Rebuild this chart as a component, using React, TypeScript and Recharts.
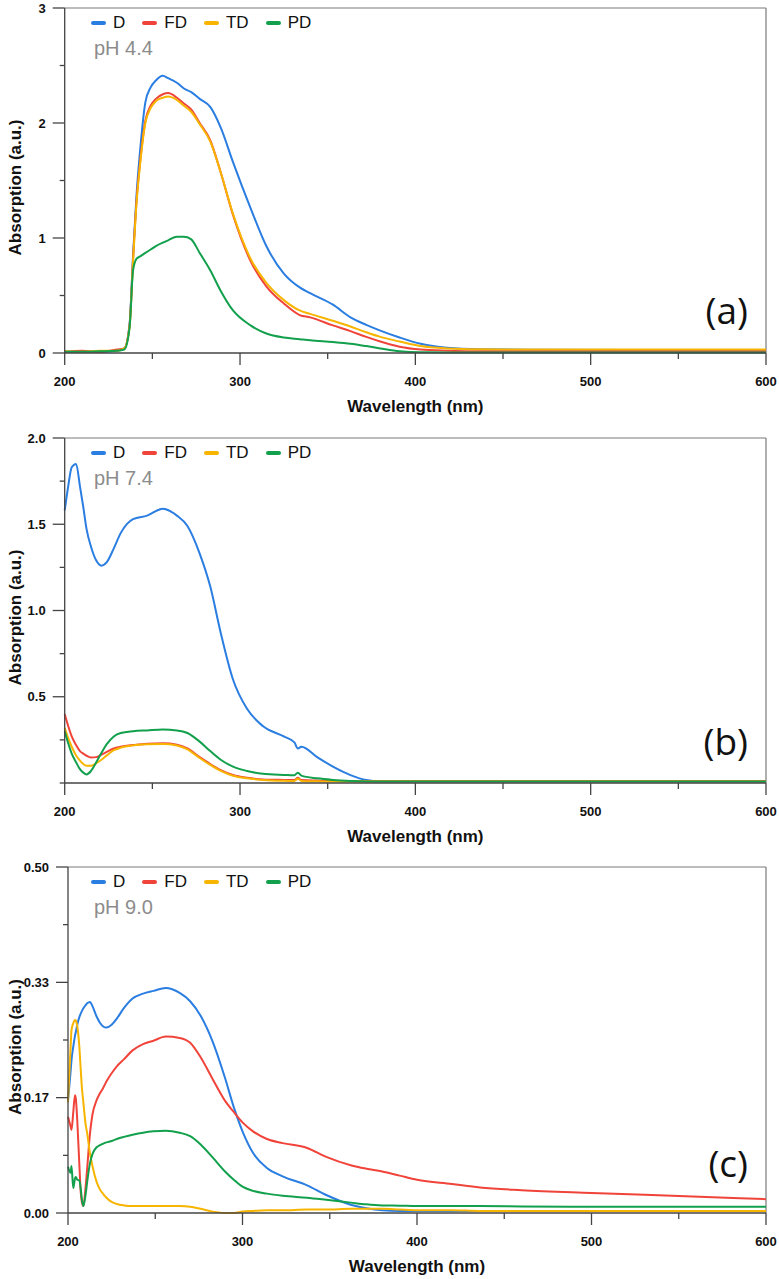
import { LineChart, Line, XAxis, YAxis, ReferenceLine, Legend, Label } from "recharts";

const AXIS = "#444";
const FRAME = "#7a7a7a";
const FONT = '"Liberation Sans", Arial, sans-serif';

const seriesKeys = ["D", "FD", "TD", "PD"];
const seriesColors = ["#2a7de1", "#f0443a", "#f7b500", "#12a04c"];

const xTicks = [200, 250, 300, 350, 400, 450, 500, 550, 600];
const xLabels = [200, 300, 400, 500, 600];

// panel (a) pH 4.4
const wlA = [200, 210, 220, 230, 234, 237, 239, 241, 243, 246, 249, 252, 256, 259, 264, 268, 272, 277, 283, 289, 296, 306, 315, 325, 334, 340, 353, 363, 372, 380, 391, 403, 418, 437, 470, 520, 600];
const dA = [0.01, 0.015, 0.01, 0.02, 0.04, 0.25, 0.85, 1.38, 1.76, 2.18, 2.31, 2.37, 2.41, 2.39, 2.35, 2.3, 2.27, 2.21, 2.14, 1.96, 1.66, 1.26, 0.93, 0.69, 0.57, 0.52, 0.42, 0.31, 0.245, 0.195, 0.135, 0.08, 0.045, 0.032, 0.028, 0.026, 0.025];
const fdA = [0.01, 0.02, 0.01, 0.03, 0.04, 0.24, 0.82, 1.33, 1.66, 2.02, 2.15, 2.21, 2.25, 2.26, 2.22, 2.17, 2.12, 2.0, 1.85, 1.57, 1.2, 0.8, 0.58, 0.43, 0.33, 0.31, 0.24, 0.19, 0.14, 0.1, 0.055, 0.03, 0.02, 0.015, 0.015, 0.015, 0.015];
const tdA = [0.015, 0.01, 0.02, 0.02, 0.04, 0.23, 0.8, 1.31, 1.64, 2.0, 2.13, 2.19, 2.22, 2.23, 2.2, 2.15, 2.1, 1.99, 1.84, 1.57, 1.21, 0.82, 0.61, 0.46, 0.37, 0.34, 0.28, 0.23, 0.18, 0.14, 0.1, 0.06, 0.04, 0.032, 0.03, 0.03, 0.03];
const pdA = [0.01, 0.01, 0.015, 0.02, 0.03, 0.22, 0.72, 0.82, 0.84, 0.87, 0.9, 0.93, 0.96, 0.98, 1.01, 1.01, 0.99, 0.87, 0.72, 0.54, 0.37, 0.24, 0.17, 0.135, 0.12, 0.11, 0.095, 0.08, 0.06, 0.04, 0.015, 0.006, 0.005, 0.005, 0.005, 0.005, 0.005];
const yTicksA = [0, 0.5, 1, 1.5, 2, 2.5, 3];
const yLabelsA = ["0", "", "1", "", "2", "", "3"];

// panel (b) pH 7.4
const wlB = [200, 202, 204, 206.5, 208.7, 210.6, 212.5, 215, 218, 221, 224, 228, 232, 239, 247, 256, 264, 270, 277, 283, 289, 296, 304, 313, 325, 331, 333, 335, 344, 353, 363, 372, 382, 400, 450, 500, 600];
const dB = [1.58, 1.72, 1.83, 1.85, 1.72, 1.6, 1.47, 1.37, 1.29, 1.26, 1.28, 1.36, 1.45, 1.53, 1.55, 1.59, 1.55, 1.49, 1.33, 1.14, 0.87, 0.6, 0.43, 0.33, 0.27, 0.235, 0.2, 0.21, 0.15, 0.095, 0.046, 0.017, 0.008, 0.01, 0.01, 0.01, 0.01];
const fdB = [0.4, 0.33, 0.27, 0.22, 0.185, 0.17, 0.158, 0.148, 0.15, 0.165, 0.18, 0.2, 0.21, 0.22, 0.228, 0.23, 0.222, 0.2, 0.15, 0.11, 0.075, 0.046, 0.03, 0.021, 0.018, 0.017, 0.03, 0.017, 0.014, 0.012, 0.012, 0.012, 0.012, 0.012, 0.012, 0.012, 0.012];
const tdB = [0.32, 0.26, 0.21, 0.16, 0.13, 0.11, 0.1, 0.1, 0.115, 0.135, 0.16, 0.19, 0.205, 0.218, 0.224, 0.226, 0.218, 0.195, 0.145, 0.105, 0.07, 0.042, 0.027, 0.018, 0.013, 0.012, 0.025, 0.012, 0.01, 0.008, 0.008, 0.008, 0.008, 0.008, 0.008, 0.008, 0.008];
const pdB = [0.3, 0.23, 0.17, 0.12, 0.08, 0.06, 0.05, 0.07, 0.12, 0.175, 0.225, 0.27, 0.29, 0.3, 0.305, 0.31, 0.305, 0.29, 0.24, 0.185, 0.135, 0.095, 0.07, 0.053, 0.047, 0.045, 0.06, 0.043, 0.027, 0.018, 0.012, 0.009, 0.008, 0.008, 0.008, 0.008, 0.008];
const yTicksB = [0, 0.25, 0.5, 0.75, 1, 1.25, 1.5, 1.75, 2];
const yLabelsB = ["", "", "0.5", "", "1.0", "", "1.5", "", "2.0"];

// panel (c) pH 9.0
const wlC = [200, 201.5, 202, 203, 204, 204.5, 205.3, 206.5, 207.3, 208, 208.8, 210, 211, 212.6, 214, 216.4, 218.3, 220, 222, 225, 228, 232, 237, 243, 249, 256, 264, 270, 276, 283, 290, 295, 300, 306, 314, 323, 337, 348, 362, 371, 380, 390, 400, 420, 436, 460, 500, 550, 600];
const dC = [0.163, 0.205, 0.221, 0.24, 0.256, 0.262, 0.272, 0.283, 0.288, 0.292, 0.296, 0.3, 0.303, 0.305, 0.299, 0.284, 0.275, 0.27, 0.268, 0.272, 0.281, 0.296, 0.31, 0.317, 0.321, 0.325, 0.318, 0.306, 0.285, 0.247, 0.195, 0.153, 0.118, 0.087, 0.065, 0.053, 0.04, 0.026, 0.012, 0.007, 0.004, 0.003, 0.003, 0.003, 0.003, 0.003, 0.003, 0.003, 0.003];
const fdC = [0.139, 0.125, 0.12, 0.145, 0.17, 0.165, 0.134, 0.07, 0.03, 0.015, 0.01, 0.035, 0.065, 0.115, 0.142, 0.163, 0.173, 0.18, 0.19, 0.202, 0.212, 0.222, 0.235, 0.244, 0.249, 0.255, 0.253, 0.246, 0.225, 0.193, 0.162, 0.146, 0.131, 0.118, 0.107, 0.101, 0.094, 0.081, 0.069, 0.064, 0.06, 0.054, 0.048, 0.042, 0.037, 0.033, 0.029, 0.0246, 0.02];
const tdC = [0.16, 0.24, 0.264, 0.274, 0.279, 0.278, 0.27, 0.24, 0.207, 0.18, 0.16, 0.13, 0.115, 0.086, 0.068, 0.045, 0.034, 0.028, 0.022, 0.016, 0.013, 0.011, 0.01, 0.01, 0.01, 0.01, 0.01, 0.009, 0.006, 0.002, 0.0, 0.0, 0.002, 0.003, 0.004, 0.004, 0.005, 0.005, 0.006, 0.006, 0.006, 0.005, 0.004, 0.004, 0.003, 0.003, 0.003, 0.003, 0.003];
const pdC = [0.067, 0.058, 0.068, 0.036, 0.05, 0.052, 0.048, 0.047, 0.035, 0.019, 0.01, 0.025, 0.045, 0.072, 0.085, 0.095, 0.098, 0.1, 0.102, 0.104, 0.107, 0.11, 0.113, 0.116, 0.118, 0.119, 0.116, 0.111, 0.099, 0.08, 0.06, 0.048, 0.038, 0.032, 0.028, 0.025, 0.022, 0.019, 0.015, 0.0125, 0.011, 0.0106, 0.01, 0.01, 0.01, 0.0095, 0.009, 0.009, 0.009];
const yTicksC = [0, 0.0833, 0.1667, 0.25, 0.3333, 0.4167, 0.5];
const yLabelsC = ["0.00", "", "0.17", "", "0.33", "", "0.50"];

function build(wl: number[], cols: number[][]) {
  return wl.map((w, i) => {
    const row: Record<string, number> = { w };
    seriesKeys.forEach((k, j) => (row[k] = cols[j][i]));
    return row;
  });
}

const XTick = (props: any) => {
  const { x, y, payload } = props;
  const major = xLabels.includes(payload.value);
  return (
    <g>
      <line x1={x} x2={x} y1={y} y2={y + (major ? 12 : 6)} stroke={AXIS} strokeWidth={1.3} />
      {major && (
        <text x={x} y={y + 33} textAnchor="middle" fontFamily={FONT} fontWeight="bold" fontSize={13} fill="#111">
          {payload.value}
        </text>
      )}
    </g>
  );
};

const makeYTick = (labels: string[]) => (props: any) => {
  const { x, y, index } = props;
  const text = labels[index];
  return (
    <g>
      <line x1={x - (text ? 12 : 5)} x2={x} y1={y} y2={y} stroke={AXIS} strokeWidth={1.3} />
      {text && (
        <text x={x - 19} y={y + 4.5} textAnchor="end" fontFamily={FONT} fontWeight="bold" fontSize={13} fill="#111">
          {text}
        </text>
      )}
    </g>
  );
};

// keep legend in series order (Recharts sorts it by name otherwise)
const LegendContent = (props: any) => {
  const items = [...(props.payload || [])].sort(
    (a: any, b: any) => seriesKeys.indexOf(a.value) - seriesKeys.indexOf(b.value)
  );
  return (
    <div style={{ display: "flex", alignItems: "center", fontFamily: FONT, fontSize: 17, color: "#111", whiteSpace: "nowrap" }}>
      {items.map((e: any) => (
        <div key={e.value} style={{ display: "flex", alignItems: "center", marginRight: 17 }}>
          <span style={{ display: "inline-block", width: 15, height: 4, borderRadius: 2, background: e.color, marginRight: 7 }} />
          <span>{e.value}</span>
        </div>
      ))}
    </div>
  );
};

type PanelProps = {
  data: Record<string, number>[];
  yMax: number;
  yTicks: number[];
  yLabels: string[];
  axisWidth: number;
  height: number;
  top: number;
  bottom: number;
  ph: string;
  letter: string;
  letterLift: number;
};

function Panel({ data, yMax, yTicks, yLabels, axisWidth, height, top, bottom, ph, letter, letterLift }: PanelProps) {
  const plotBottom = height - bottom - 60;
  return (
    <div style={{ position: "relative", width: 779, height }}>
      <LineChart width={779} height={height} data={data} margin={{ top, right: 13, bottom, left: 0 }}>
        <XAxis
          dataKey="w"
          type="number"
          domain={[200, 600]}
          ticks={xTicks}
          interval={0}
          height={60}
          tickSize={0}
          tickMargin={0}
          tickLine={false}
          axisLine={{ stroke: AXIS, strokeWidth: 1.3 }}
          tick={XTick}
        >
          <Label
            content={(p: any) => {
              const vb = p.viewBox || {};
              return (
                <text x={vb.x + vb.width / 2} y={vb.y + 59} textAnchor="middle" fontFamily={FONT} fontWeight="bold" fontSize={17} fill="#111">
                  Wavelength (nm)
                </text>
              );
            }}
          />
        </XAxis>
        <YAxis
          type="number"
          domain={[0, yMax]}
          ticks={yTicks}
          interval={0}
          width={axisWidth}
          tickSize={0}
          tickMargin={0}
          tickLine={false}
          axisLine={{ stroke: AXIS, strokeWidth: 1.3 }}
          tick={makeYTick(yLabels)}
        >
          <Label
            content={(p: any) => {
              const vb = p.viewBox || {};
              const cy = vb.y + vb.height / 2 + 7;
              return (
                <text x={15} y={cy} transform={`rotate(-90, 15, ${cy})`} dy={6} textAnchor="middle" fontFamily={FONT} fontWeight="bold" fontSize={17} fill="#111">
                  Absorption (a.u.)
                </text>
              );
            }}
          />
        </YAxis>
        <ReferenceLine y={yMax} stroke={FRAME} strokeWidth={1.2} />
        <ReferenceLine x={600} stroke={FRAME} strokeWidth={1.2} />
        {seriesKeys.map((k, i) => (
          <Line key={k} dataKey={k} name={k} type="monotone" stroke={seriesColors[i]} strokeWidth={2} dot={false} isAnimationActive={false} />
        ))}
        <Legend
          layout="horizontal"
          verticalAlign="middle"
          align="center"
          content={LegendContent}
          wrapperStyle={{ top: top + 5, left: 91, width: "auto", height: 24 }}
        />
      </LineChart>
      <div style={{ position: "absolute", left: 94, top: top + 29, fontFamily: FONT, fontSize: 20, lineHeight: "22px", color: "#8c8c8c", whiteSpace: "nowrap" }}>
        {ph}
      </div>
      <div
        style={{
          position: "absolute",
          right: 31,
          top: plotBottom - letterLift - 22,
          fontFamily: '"Open Sans", sans-serif',
          fontSize: 37,
          lineHeight: "40px",
          color: "#111",
        }}
      >
        {letter}
      </div>
    </div>
  );
}

export default function App() {
  return (
    <div style={{ position: "absolute", left: 0, top: 0, width: 779, height: 1279, background: "#fff" }}>
      <Panel data={build(wlA, [dA, fdA, tdA, pdA])} yMax={3} yTicks={yTicksA} yLabels={yLabelsA} axisWidth={64.7} height={420} top={8} bottom={7} ph="pH 4.4" letter="(a)" letterLift={41} />
      <Panel data={build(wlB, [dB, fdB, tdB, pdB])} yMax={2} yTicks={yTicksB} yLabels={yLabelsB} axisWidth={64.7} height={430} top={18} bottom={7} ph="pH 7.4" letter="(b)" letterLift={40} />
      <Panel data={build(wlC, [dC, fdC, tdC, pdC])} yMax={0.5} yTicks={yTicksC} yLabels={yLabelsC} axisWidth={68} height={429} top={17} bottom={6} ph="pH 9.0" letter="(c)" letterLift={48} />
    </div>
  );
}
